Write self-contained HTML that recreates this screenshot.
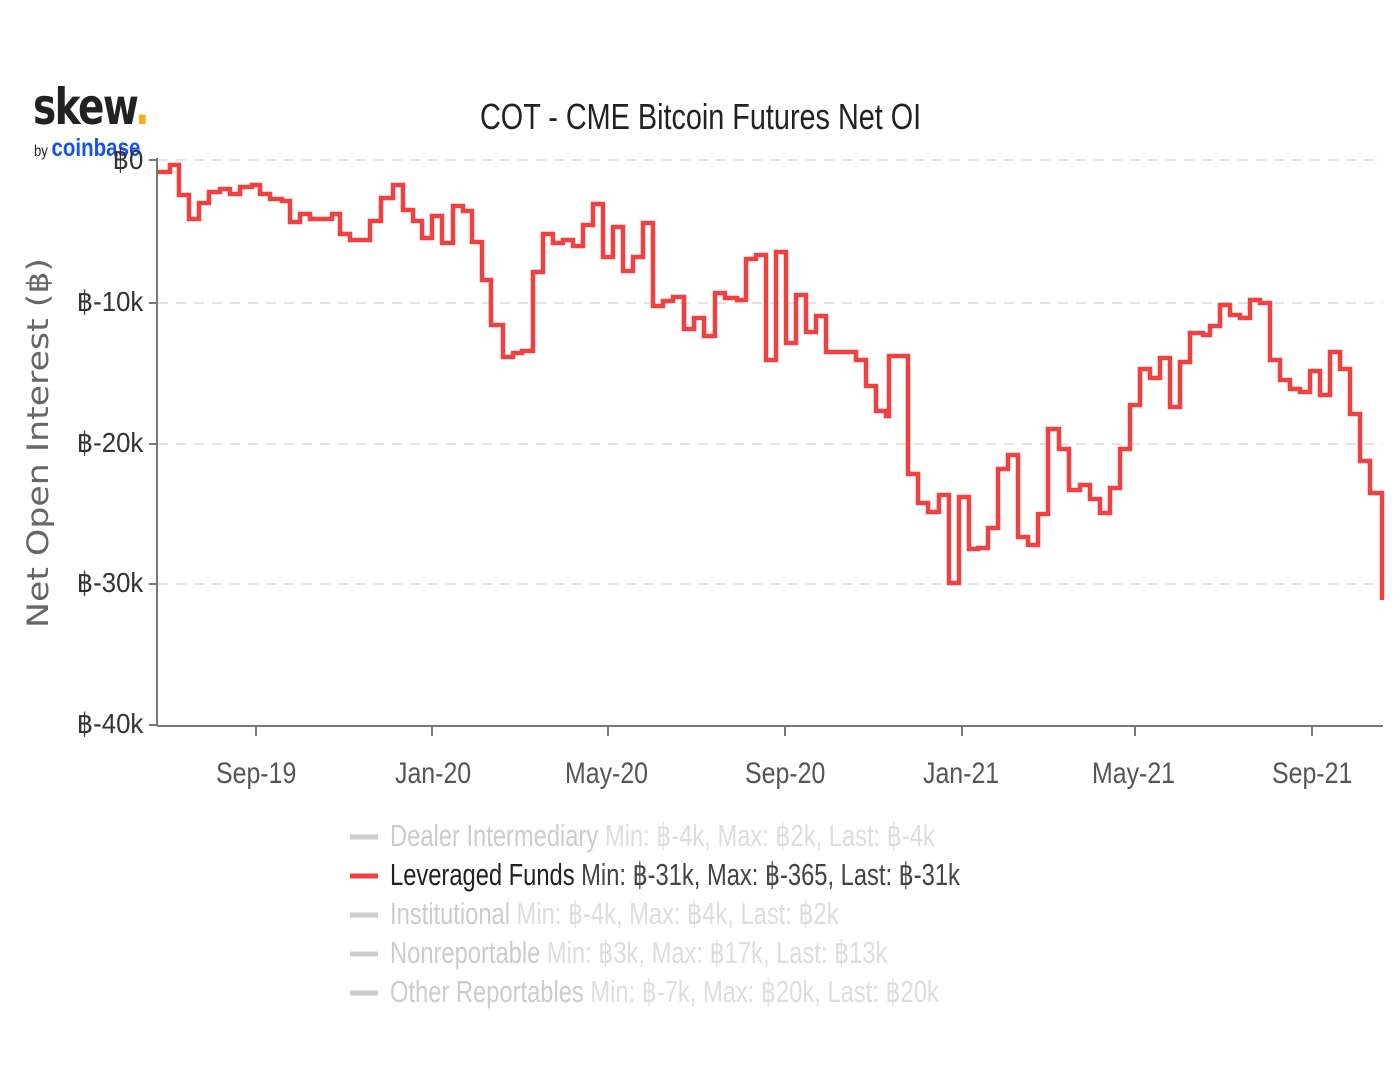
<!DOCTYPE html>
<html><head><meta charset="utf-8"><style>
body{margin:0;background:#fff;width:1400px;height:1080px;overflow:hidden;position:relative;font-family:"Liberation Sans",sans-serif;}
.t{position:absolute;white-space:nowrap;transform-origin:0 0;}
.x{font-size:30px;color:#555;transform:scaleX(0.83);}
.l{font-size:31px;transform:scaleX(0.765);}
.y{font-size:28px;color:#333;transform-origin:100% 0;transform:scaleX(0.92);}
</style></head><body>
<svg width="1400" height="1080" style="position:absolute;left:0;top:0">
<g stroke="#e3e3e3" stroke-width="2" stroke-dasharray="10,8">
<line x1="158" y1="160" x2="1383" y2="160"/>
<line x1="158" y1="303" x2="1383" y2="303"/>
<line x1="158" y1="444" x2="1383" y2="444"/>
<line x1="158" y1="584" x2="1383" y2="584"/>
</g>
<line x1="157" y1="158" x2="157" y2="726" stroke="#777" stroke-width="2"/>
<g stroke="#777" stroke-width="2">
<line x1="149" y1="160" x2="157" y2="160"/><line x1="149" y1="303" x2="157" y2="303"/><line x1="149" y1="444" x2="157" y2="444"/><line x1="149" y1="584" x2="157" y2="584"/><line x1="149" y1="725" x2="157" y2="725"/>
<line x1="157" y1="726" x2="1383" y2="726"/>
<line x1="256" y1="726" x2="256" y2="736"/><line x1="432" y1="726" x2="432" y2="736"/><line x1="608" y1="726" x2="608" y2="736"/><line x1="785" y1="726" x2="785" y2="736"/><line x1="962" y1="726" x2="962" y2="736"/><line x1="1135" y1="726" x2="1135" y2="736"/><line x1="1312" y1="726" x2="1312" y2="736"/>
</g>
<path fill="none" stroke="#f04040" stroke-width="4.5" d="M158 172 H170 V165 H179 V195 H189 V219 H199 V203 H209 V192 H220 V189 H230 V194 H240 V187 H252 V185 H260 V194 H270 V199 H282 V201 H290 V222 H300 V214 H310 V219 H332 V214 H340 V234 H350 V240 H370 V221 H381 V198 H393 V185 H403 V210 H413 V221 H422 V238 H432 V216 H442 V243 H453 V206 H463 V211 H472 V242 H482 V280 H491 V325 H503 V357 H513 V353 H522 V351 H533 V272 H543 V234 H553 V243 H563 V240 H573 V246 H583 V225 H593 V204 H603 V257 H613 V227 H623 V271 H633 V257 H643 V223 H653 V306 H663 V301 H673 V297 H684 V329 H694 V318 H704 V336 H715 V293 H725 V298 H737 V300 H746 V259 H756 V255 H766 V360 H776 V252 H786 V343 H796 V295 H806 V332 H816 V316 H826 V352 H846 V352 H856 V360 H866 V386 H876 V411 H886 V416 H889 V356 H908 V474 H918 V503 H928 V512 H939 V495 H949 V583 H959 V497 H969 V549 H978 V548 H988 V528 H998 V469 H1008 V455 H1018 V537 H1028 V545 H1038 V514 H1048 V429 H1059 V449 H1069 V490 H1080 V485 H1090 V499 H1100 V513 H1110 V488 H1120 V449 H1130 V405 H1140 V369 H1150 V378 H1160 V358 H1170 V407 H1180 V362 H1190 V333 H1203 V335 H1210 V326 H1220 V305 H1230 V315 H1240 V318 H1250 V300 H1260 V303 H1270 V360 H1280 V380 H1290 V389 H1300 V392 H1310 V371 H1320 V395 H1330 V352 H1340 V369 H1350 V414 H1360 V461 H1370 V493 H1382 V600"/>
<g stroke-width="5">
<line x1="350" y1="837" x2="378" y2="837" stroke="#ccc"/>
<line x1="350" y1="876" x2="378" y2="876" stroke="#f04040"/>
<line x1="350" y1="915" x2="378" y2="915" stroke="#ccc"/>
<line x1="350" y1="954" x2="378" y2="954" stroke="#ccc"/>
<line x1="350" y1="993" x2="378" y2="993" stroke="#ccc"/>
</g>
<text x="40" y="443" transform="rotate(-90 40 443)" text-anchor="middle" dominant-baseline="middle" font-family="DejaVu Sans,sans-serif" font-size="29" fill="#666" textLength="370" lengthAdjust="spacingAndGlyphs">Net Open Interest (฿)</text>
</svg>
<div class="t" style="left:33px;top:78px;font-family:'DejaVu Sans',sans-serif;font-weight:bold;font-size:50px;color:#222;letter-spacing:-2px;transform:scaleX(0.78)">skew<span style="color:#f0b020">.</span></div>
<div class="t" style="left:34px;top:134px;font-size:16px;color:#222;transform:scaleX(0.82)">by <span style="color:#1652f0;font-size:25px;font-weight:bold">coinbase</span></div>
<div class="t" style="left:480px;top:96px;font-size:36px;color:#222;transform:scaleX(0.8)">COT - CME Bitcoin Futures Net OI</div>
<div class="t y" style="right:1257px;top:143px">฿0</div>
<div class="t y" style="right:1257px;top:285px">฿-10k</div>
<div class="t y" style="right:1257px;top:426px">฿-20k</div>
<div class="t y" style="right:1257px;top:566px">฿-30k</div>
<div class="t y" style="right:1257px;top:707px">฿-40k</div>
<div class="t x" style="left:216px;top:757px">Sep-19</div>
<div class="t x" style="left:395px;top:757px">Jan-20</div>
<div class="t x" style="left:565px;top:757px">May-20</div>
<div class="t x" style="left:745px;top:757px">Sep-20</div>
<div class="t x" style="left:923px;top:757px">Jan-21</div>
<div class="t x" style="left:1092px;top:757px">May-21</div>
<div class="t x" style="left:1272px;top:757px">Sep-21</div>
<div class="t l" style="left:390px;top:818px;color:#ccc">Dealer Intermediary <span style="color:#ddd">Min: ฿-4k, Max: ฿2k, Last: ฿-4k</span></div>
<div class="t l" style="left:390px;top:857px;color:#222">Leveraged Funds <span style="color:#444">Min: ฿-31k, Max: ฿-365, Last: ฿-31k</span></div>
<div class="t l" style="left:390px;top:896px;color:#ccc">Institutional <span style="color:#ddd">Min: ฿-4k, Max: ฿4k, Last: ฿2k</span></div>
<div class="t l" style="left:390px;top:935px;color:#ccc">Nonreportable <span style="color:#ddd">Min: ฿3k, Max: ฿17k, Last: ฿13k</span></div>
<div class="t l" style="left:390px;top:974px;color:#ccc">Other Reportables <span style="color:#ddd">Min: ฿-7k, Max: ฿20k, Last: ฿20k</span></div>
</body></html>
